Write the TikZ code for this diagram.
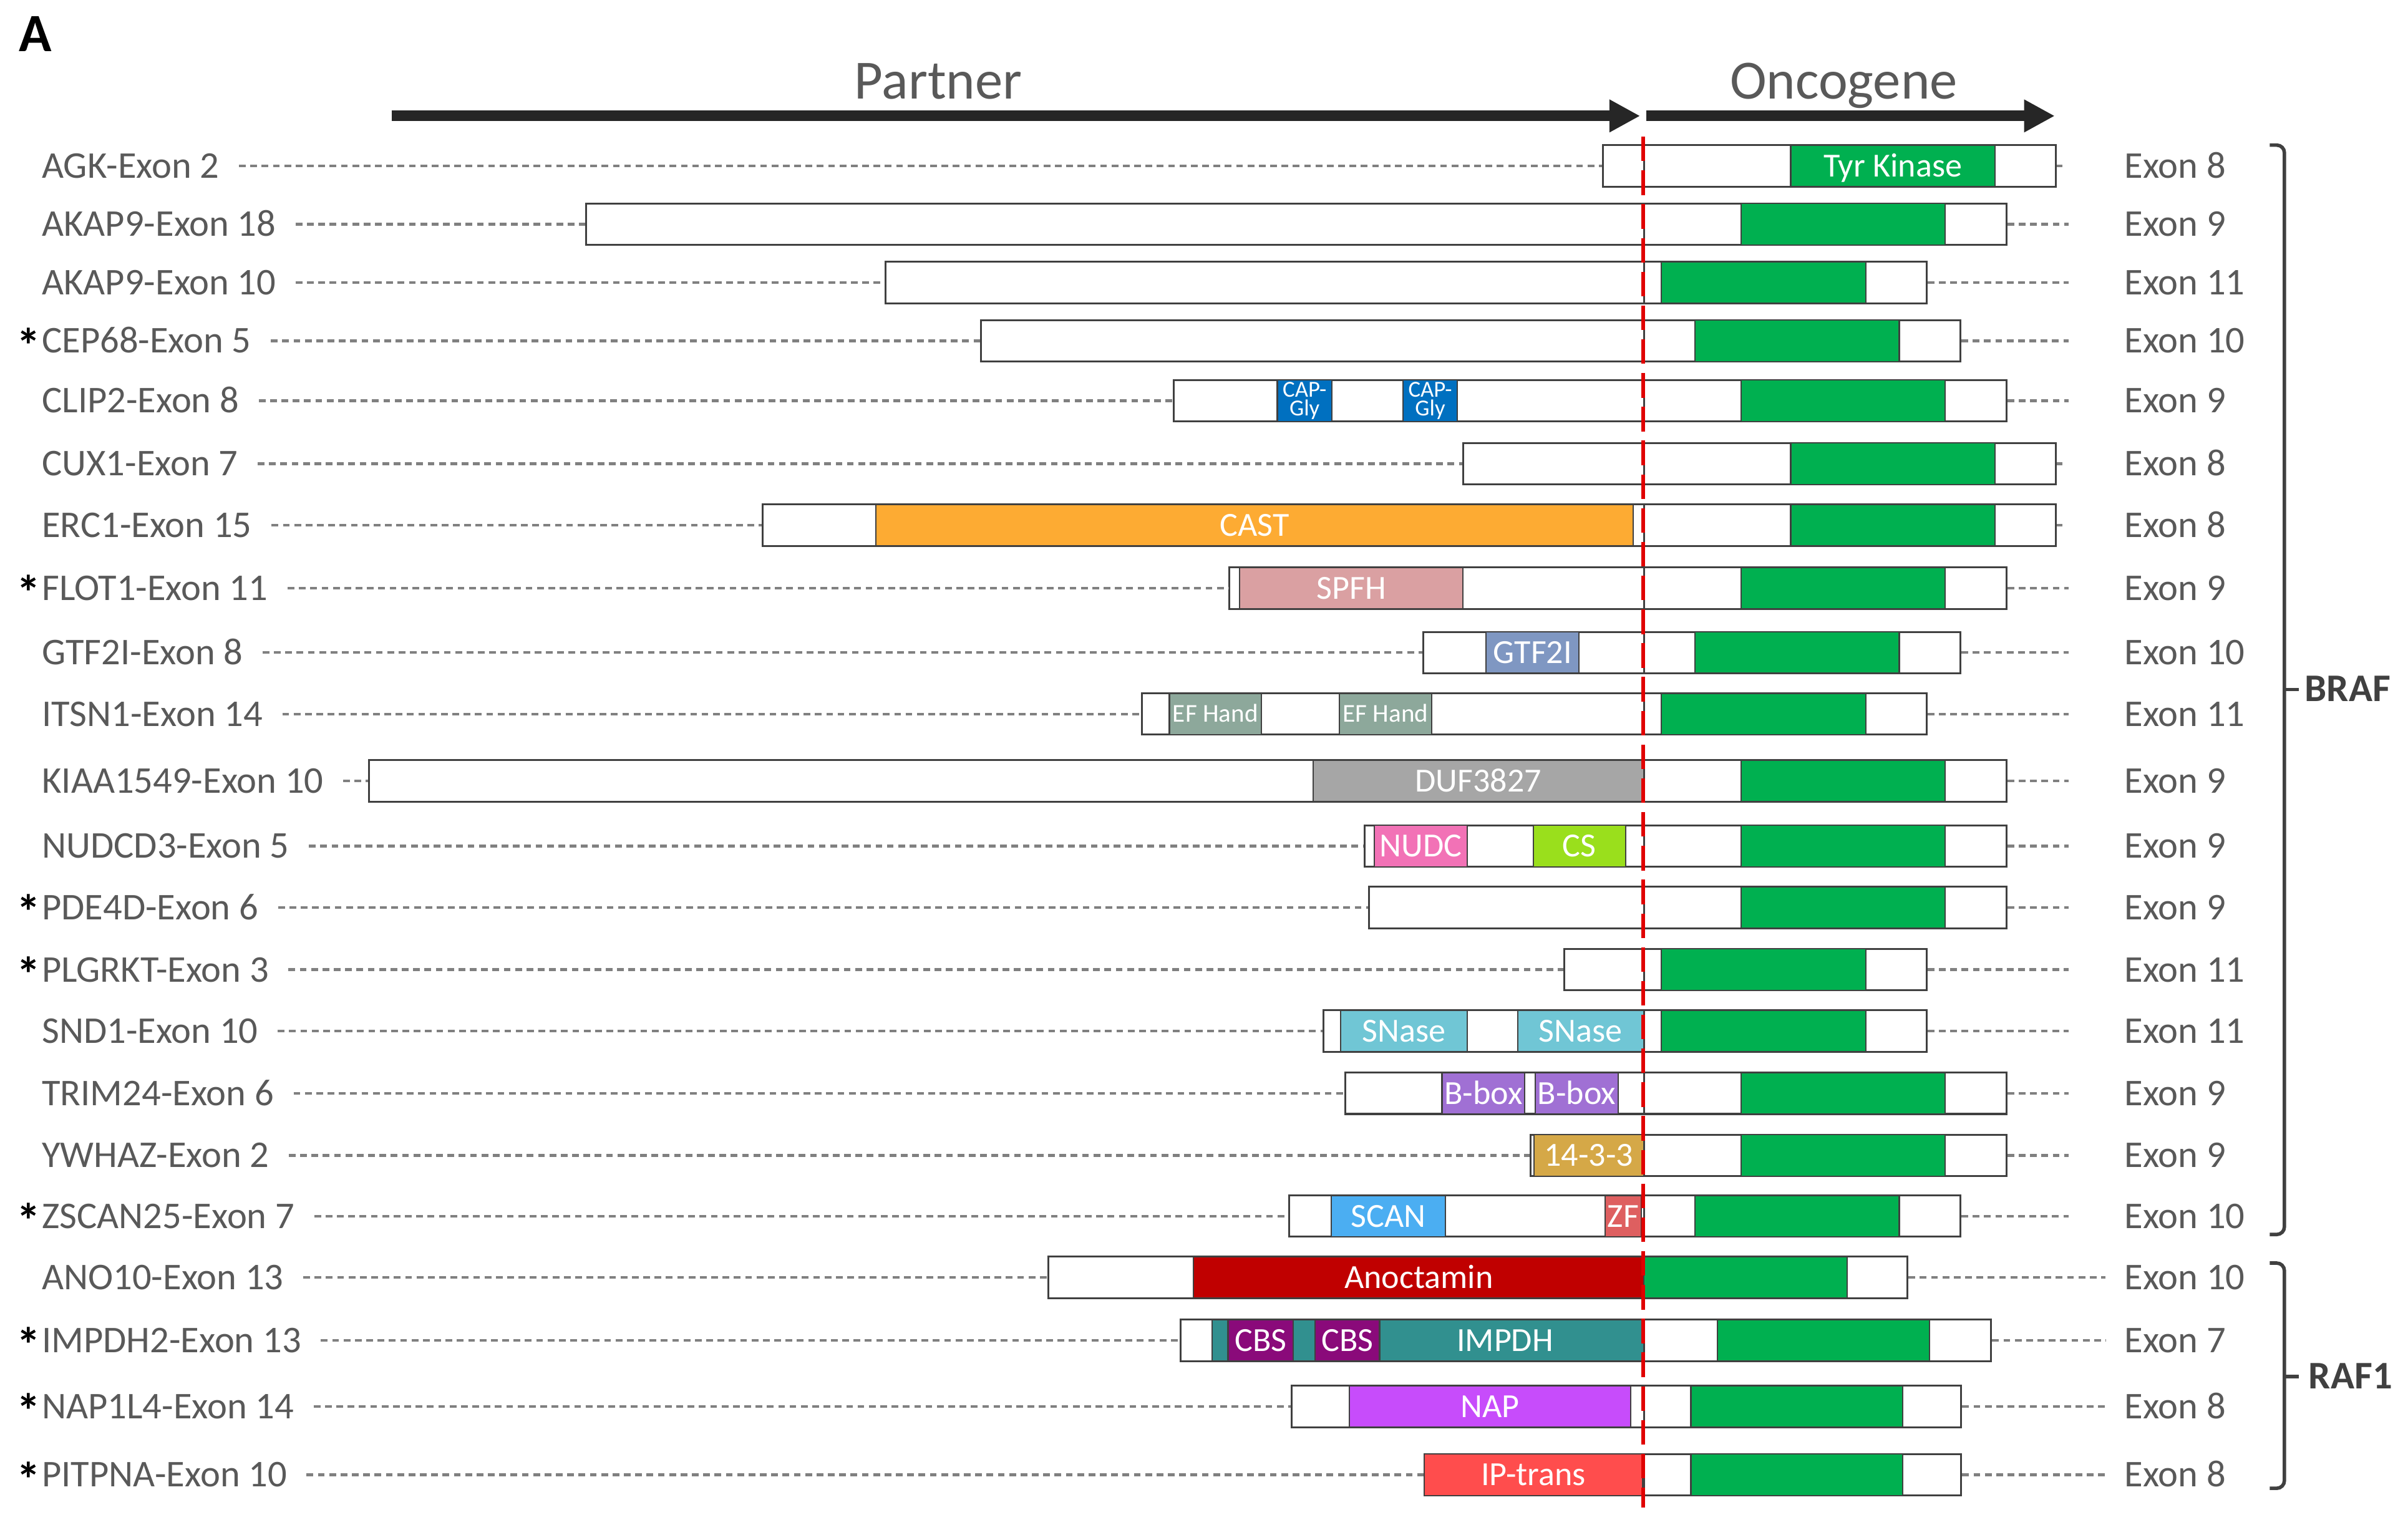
\documentclass[tikz,border=0pt]{standalone}
\usepackage{fontspec}
\setmainfont{Carlito}
\usetikzlibrary{arrows.meta,positioning}

\definecolor{labgray}{HTML}{595959}
\definecolor{boxgray}{HTML}{404040}
\definecolor{dashgray}{HTML}{808080}
\definecolor{arrowblack}{HTML}{262626}
\definecolor{fusered}{HTML}{E00000}
\definecolor{kingreen}{HTML}{00B050}
\definecolor{capgly}{HTML}{0070C0}
\definecolor{cast}{HTML}{FDAB33}
\definecolor{spfh}{HTML}{DAA0A2}
\definecolor{gtfii}{HTML}{7F97C2}
\definecolor{efhand}{HTML}{8DA89B}
\definecolor{duf}{HTML}{A6A6A6}
\definecolor{nudc}{HTML}{F272B6}
\definecolor{csdom}{HTML}{9ADF1C}
\definecolor{snase}{HTML}{70C6D5}
\definecolor{bboxdom}{HTML}{A070D4}
\definecolor{ywhazdom}{HTML}{D5A847}
\definecolor{scan}{HTML}{4BAEF2}
\definecolor{zf}{HTML}{DE5F60}
\definecolor{anoct}{HTML}{C00000}
\definecolor{impdhdom}{HTML}{31908F}
\definecolor{cbs}{HTML}{8A0A7A}
\definecolor{nap}{HTML}{C74CFB}
\definecolor{iptrans}{HTML}{FF4D4D}

\tikzset{
  headtext/.style={anchor=base, text=labgray, font=\fontsize{20.5}{24}\selectfont, inner sep=0pt},
  headarrow/.style={arrowblack, line width=0.14cm, -{Triangle[length=0.4cm,width=0.4cm]}},
  lab/.style={anchor=west, text=labgray, font=\fontsize{14}{16}\selectfont, text height=9pt, text depth=0pt, inner xsep=0.25cm, inner ysep=0pt},
  ast/.style={text=black, font=\fontsize{18}{20}\selectfont\bfseries, text height=9pt, text depth=0pt, inner sep=0pt, yshift=-3.5pt},
  exlab/.style={anchor=west, text=labgray, font=\fontsize{14}{16}\selectfont, text height=9pt, text depth=0pt, inner sep=0pt},
  pbox/.style={anchor=west, draw=boxgray, line width=0.7pt, fill=white, minimum height=0.54cm, inner sep=0pt},
  braf8/.style={pbox, minimum width=5.36cm},
  braf9/.style={pbox, minimum width=4.72cm},
  braf10/.style={pbox, minimum width=4.12cm},
  braf11/.style={pbox, minimum width=3.68cm},
  raf7/.style={pbox, minimum width=4.52cm},
  raf8/.style={pbox, minimum width=4.13cm},
  raf10/.style={pbox, minimum width=3.43cm},
  dom/.style={anchor=west, draw=boxgray, line width=0.5pt, minimum height=0.54cm, inner sep=0pt, text=white, font=\fontsize{12.5}{14}\selectfont, text height=8pt, text depth=0pt},
  kin/.style={dom, fill=kingreen, minimum width=2.66cm},
  capg/.style={anchor=west, draw=boxgray, line width=0.5pt, fill=capgly, minimum height=0.54cm, minimum width=0.71cm, inner sep=0pt, text=white, align=center, font=\fontsize{8.5}{6.8}\selectfont},
  efh/.style={dom, fill=efhand, minimum width=1.2cm, font=\fontsize{9.5}{11}\selectfont, text height=6pt},
  domtext/.style={text=white, font=\fontsize{12.5}{14}\selectfont, text height=8pt, text depth=0pt, inner sep=0pt},
  conn/.style={dashgray, line width=1pt, dash pattern=on 2.5pt off 1.7pt},
  fuse/.style={fusered, line width=1.4pt, dash pattern=on 0.32cm off 0.12cm},
  grp/.style={anchor=west, text=boxgray, font=\fontsize{14.5}{16}\selectfont\bfseries, text height=9pt, text depth=0pt, inner sep=0pt},
  brack/.style={boxgray, line width=1.3pt, rounded corners=0.1cm}
}

\begin{document}
\begin{tikzpicture}[x=0.02cm, y=-0.02cm]
  \useasboundingbox (0,0) rectangle (1568,993);

  % Panel letter and direction arrows
  \node[anchor=base west, inner sep=0pt, font=\fontsize{20}{24}\selectfont\bfseries] (panel) at (12,33.6) {A};
  \coordinate (pstart) at (255,75.5);
  \coordinate (pend) at (1068,75.5);
  \coordinate (ostart) at (1072,75.5);
  \coordinate (oend) at (1338,75.5);
  \draw[headarrow] (pstart) -- (pend);
  \draw[headarrow] (ostart) -- (oend);
  \node[headtext] (partner) at (611,64.4) {Partner};
  \node[headtext] (oncogene) at (1200.5,64.4) {Oncogene};

  % AGK
  \node[lab] (agk) at (14.5,108) {AGK-Exon 2};
  \node[pbox, minimum width=0.54cm] (agkP) at (1043,108) {};
  \node[braf8] (agkO) at (1070,108) {};
  \node[kin] (agkK) at (1165.6,108) {Tyr Kinase};
  \node[exlab] (agkE) at (1383,108) {Exon 8};
  \draw[conn] (agk) -- (agkP);
  \draw[conn] (agkO) -- (1343,108) coordinate (agkD);

  % AKAP9 exon 18
  \node[lab] (akapA) at (14.5,146) {AKAP9-Exon 18};
  \node[pbox, minimum width=13.78cm] (akapAP) at (381,146) {};
  \node[braf9] (akapAO) at (1070,146) {};
  \node[kin] (akapAK) at (1133.3,146) {};
  \node[exlab] (akapAE) at (1383,146) {Exon 9};
  \draw[conn] (akapA) -- (akapAP);
  \draw[conn] (akapAO) -- (1347,146) coordinate (akapAD);

  % AKAP9 exon 10
  \node[lab] (akapB) at (14.5,184) {AKAP9-Exon 10};
  \node[pbox, minimum width=9.88cm] (akapBP) at (576,184) {};
  \node[braf11] (akapBO) at (1070,184) {};
  \node[kin] (akapBK) at (1081.4,184) {};
  \node[exlab] (akapBE) at (1383,184) {Exon 11};
  \draw[conn] (akapB) -- (akapBP);
  \draw[conn] (akapBO) -- (1347,184) coordinate (akapBD);

  % CEP68
  \node[lab] (cep) at (14.5,222) {CEP68-Exon 5};
  \node[ast, left=-0.25cm of cep] (cepS) {*};
  \node[pbox, minimum width=8.64cm] (cepP) at (638,222) {};
  \node[braf10] (cepO) at (1070,222) {};
  \node[kin] (cepK) at (1103.3,222) {};
  \node[exlab] (cepE) at (1383,222) {Exon 10};
  \draw[conn] (cep) -- (cepP);
  \draw[conn] (cepO) -- (1347,222) coordinate (cepD);

  % CLIP2
  \node[lab] (clip) at (14.5,261) {CLIP2-Exon 8};
  \node[pbox, minimum width=6.13cm] (clipP) at (763.5,261) {};
  \node[capg] (clipA) at (831.3,261) {CAP-\\Gly};
  \node[capg] (clipB) at (913.1,261) {CAP-\\Gly};
  \node[braf9] (clipO) at (1070,261) {};
  \node[kin] (clipK) at (1133.3,261) {};
  \node[exlab] (clipE) at (1383,261) {Exon 9};
  \draw[conn] (clip) -- (clipP);
  \draw[conn] (clipO) -- (1347,261) coordinate (clipD);

  % CUX1
  \node[lab] (cux) at (14.5,302) {CUX1-Exon 7};
  \node[pbox, minimum width=2.36cm] (cuxP) at (952,302) {};
  \node[braf8] (cuxO) at (1070,302) {};
  \node[kin] (cuxK) at (1165.6,302) {};
  \node[exlab] (cuxE) at (1383,302) {Exon 8};
  \draw[conn] (cux) -- (cuxP);
  \draw[conn] (cuxO) -- (1343,302) coordinate (cuxD);

  % ERC1
  \node[lab] (erc) at (14.5,342) {ERC1-Exon 15};
  \node[pbox, minimum width=11.48cm] (ercP) at (496,342) {};
  \node[dom, fill=cast, minimum width=9.86cm] (ercA) at (570,342) {CAST};
  \node[braf8] (ercO) at (1070,342) {};
  \node[kin] (ercK) at (1165.6,342) {};
  \node[exlab] (ercE) at (1383,342) {Exon 8};
  \draw[conn] (erc) -- (ercP);
  \draw[conn] (ercO) -- (1343,342) coordinate (ercD);

  % FLOT1
  \node[lab] (flot) at (14.5,383) {FLOT1-Exon 11};
  \node[ast, left=-0.25cm of flot] (flotS) {*};
  \node[pbox, minimum width=5.40cm] (flotP) at (800,383) {};
  \node[dom, fill=spfh, minimum width=2.91cm] (flotA) at (806.8,383) {SPFH};
  \node[braf9] (flotO) at (1070,383) {};
  \node[kin] (flotK) at (1133.3,383) {};
  \node[exlab] (flotE) at (1383,383) {Exon 9};
  \draw[conn] (flot) -- (flotP);
  \draw[conn] (flotO) -- (1347,383) coordinate (flotD);

  % GTF2I
  \node[lab] (gtf) at (14.5,425) {GTF2I-Exon 8};
  \node[pbox, minimum width=2.88cm] (gtfP) at (926,425) {};
  \node[dom, fill=gtfii, minimum width=1.21cm] (gtfA) at (967.3,425) {GTF2I};
  \node[braf10] (gtfO) at (1070,425) {};
  \node[kin] (gtfK) at (1103.3,425) {};
  \node[exlab] (gtfE) at (1383,425) {Exon 10};
  \draw[conn] (gtf) -- (gtfP);
  \draw[conn] (gtfO) -- (1347,425) coordinate (gtfD);

  % ITSN1
  \node[lab] (itsn) at (14.5,465) {ITSN1-Exon 14};
  \node[pbox, minimum width=6.54cm] (itsnP) at (743,465) {};
  \node[efh] (itsnA) at (761,465) {EF Hand};
  \node[efh] (itsnB) at (871.8,465) {EF Hand};
  \node[braf11] (itsnO) at (1070,465) {};
  \node[kin] (itsnK) at (1081.4,465) {};
  \node[exlab] (itsnE) at (1383,465) {Exon 11};
  \draw[conn] (itsn) -- (itsnP);
  \draw[conn] (itsnO) -- (1347,465) coordinate (itsnD);

  % KIAA1549
  \node[lab] (kiaa) at (14.5,508.5) {KIAA1549-Exon 10};
  \node[pbox, minimum width=16.61cm] (kiaaP) at (239.5,508.5) {};
  \node[dom, fill=duf, minimum width=4.31cm] (kiaaA) at (854.5,508.5) {DUF3827};
  \node[braf9] (kiaaO) at (1070,508.5) {};
  \node[kin] (kiaaK) at (1133.3,508.5) {};
  \node[exlab] (kiaaE) at (1383,508.5) {Exon 9};
  \draw[conn] (kiaa) -- (kiaaP);
  \draw[conn] (kiaaO) -- (1347,508.5) coordinate (kiaaD);

  % NUDCD3
  \node[lab] (nudcd) at (14.5,551) {NUDCD3-Exon 5};
  \node[pbox, minimum width=3.64cm] (nudcdP) at (888,551) {};
  \node[dom, fill=nudc, minimum width=1.21cm] (nudcdA) at (894.6,551) {NUDC};
  \node[dom, fill=csdom, minimum width=1.20cm] (nudcdB) at (998,551) {CS};
  \node[braf9] (nudcdO) at (1070,551) {};
  \node[kin] (nudcdK) at (1133.3,551) {};
  \node[exlab] (nudcdE) at (1383,551) {Exon 9};
  \draw[conn] (nudcd) -- (nudcdP);
  \draw[conn] (nudcdO) -- (1347,551) coordinate (nudcdD);

  % PDE4D
  \node[lab] (pde) at (14.5,591) {PDE4D-Exon 6};
  \node[ast, left=-0.25cm of pde] (pdeS) {*};
  \node[pbox, minimum width=3.58cm] (pdeP) at (891,591) {};
  \node[braf9] (pdeO) at (1070,591) {};
  \node[kin] (pdeK) at (1133.3,591) {};
  \node[exlab] (pdeE) at (1383,591) {Exon 9};
  \draw[conn] (pde) -- (pdeP);
  \draw[conn] (pdeO) -- (1347,591) coordinate (pdeD);

  % PLGRKT
  \node[lab] (plg) at (14.5,631.5) {PLGRKT-Exon 3};
  \node[ast, left=-0.25cm of plg] (plgS) {*};
  \node[pbox, minimum width=1.04cm] (plgP) at (1018,631.5) {};
  \node[braf11] (plgO) at (1070,631.5) {};
  \node[kin] (plgK) at (1081.4,631.5) {};
  \node[exlab] (plgE) at (1383,631.5) {Exon 11};
  \draw[conn] (plg) -- (plgP);
  \draw[conn] (plgO) -- (1347,631.5) coordinate (plgD);

  % SND1
  \node[lab] (snd) at (14.5,671.5) {SND1-Exon 10};
  \node[pbox, minimum width=4.18cm] (sndP) at (861,671.5) {};
  \node[dom, fill=snase, minimum width=1.65cm] (sndA) at (872.4,671.5) {SNase};
  \node[dom, fill=snase, minimum width=1.64cm] (sndB) at (987.8,671.5) {SNase};
  \node[braf11] (sndO) at (1070,671.5) {};
  \node[kin] (sndK) at (1081.4,671.5) {};
  \node[exlab] (sndE) at (1383,671.5) {Exon 11};
  \draw[conn] (snd) -- (sndP);
  \draw[conn] (sndO) -- (1347,671.5) coordinate (sndD);

  % TRIM24
  \node[lab] (trim) at (14.5,712) {TRIM24-Exon 6};
  \node[pbox, minimum width=3.89cm] (trimP) at (875.5,712) {};
  \node[dom, fill=bboxdom, minimum width=1.08cm] (trimA) at (938.5,712) {B-box};
  \node[dom, fill=bboxdom, minimum width=1.08cm] (trimB) at (999.2,712) {B-box};
  \node[braf9] (trimO) at (1070,712) {};
  \node[kin] (trimK) at (1133.3,712) {};
  \node[exlab] (trimE) at (1383,712) {Exon 9};
  \draw[conn] (trim) -- (trimP);
  \draw[conn] (trimO) -- (1347,712) coordinate (trimD);

  % YWHAZ
  \node[lab] (ywhaz) at (14.5,752.5) {YWHAZ-Exon 2};
  \node[pbox, minimum width=1.48cm] (ywhazP) at (996,752.5) {};
  \node[dom, fill=ywhazdom, minimum width=1.43cm] (ywhazA) at (998.3,752.5) {14-3-3};
  \node[braf9] (ywhazO) at (1070,752.5) {};
  \node[kin] (ywhazK) at (1133.3,752.5) {};
  \node[exlab] (ywhazE) at (1383,752.5) {Exon 9};
  \draw[conn] (ywhaz) -- (ywhazP);
  \draw[conn] (ywhazO) -- (1347,752.5) coordinate (ywhazD);

  % ZSCAN25
  \node[lab] (zscan) at (14.5,792) {ZSCAN25-Exon 7};
  \node[ast, left=-0.25cm of zscan] (zscanS) {*};
  \node[pbox, minimum width=4.62cm] (zscanP) at (839,792) {};
  \node[dom, fill=scan, minimum width=1.49cm] (zscanA) at (866.4,792) {SCAN};
  \node[dom, fill=zf, minimum width=0.47cm] (zscanB) at (1044.8,792) {ZF};
  \node[braf10] (zscanO) at (1070,792) {};
  \node[kin] (zscanK) at (1103.3,792) {};
  \node[exlab] (zscanE) at (1383,792) {Exon 10};
  \draw[conn] (zscan) -- (zscanP);
  \draw[conn] (zscanO) -- (1347,792) coordinate (zscanD);

  % ANO10
  \node[lab] (ano) at (14.5,832) {ANO10-Exon 13};
  \node[pbox, minimum width=7.76cm] (anoP) at (682,832) {};
  \node[dom, fill=anoct, minimum width=5.87cm] (anoA) at (776.7,832) {Anoctamin};
  \node[raf10] (anoO) at (1070,832) {};
  \node[kin, minimum width=2.65cm] (anoK) at (1070,832) {};
  \node[exlab] (anoE) at (1383,832) {Exon 10};
  \draw[conn] (ano) -- (anoP);
  \draw[conn] (anoO) -- (1371,832) coordinate (anoD);

  % IMPDH2
  \node[lab] (impdh) at (14.5,873) {IMPDH2-Exon 13};
  \node[ast, left=-0.25cm of impdh] (impdhS) {*};
  \node[pbox, minimum width=6.04cm] (impdhP) at (768,873) {};
  \node[dom, fill=impdhdom, minimum width=5.62cm] (impdhA) at (788.9,873) {};
  \node[dom, fill=cbs, minimum width=0.85cm] (impdhB) at (799.2,873) {CBS};
  \node[dom, fill=cbs, minimum width=0.84cm] (impdhC) at (855.9,873) {CBS};
  \node[domtext] (impdhT) at (980,873) {IMPDH};
  \node[raf7] (impdhO) at (1070,873) {};
  \node[kin, minimum width=2.76cm] (impdhK) at (1118,873) {};
  \node[exlab] (impdhE) at (1383,873) {Exon 7};
  \draw[conn] (impdh) -- (impdhP);
  \draw[conn] (impdhO) -- (1371,873) coordinate (impdhD);

  % NAP1L4
  \node[lab] (nap) at (14.5,916) {NAP1L4-Exon 14};
  \node[ast, left=-0.25cm of nap] (napS) {*};
  \node[pbox, minimum width=4.59cm] (napP) at (840.5,916) {};
  \node[dom, fill=nap, minimum width=3.67cm] (napA) at (878.1,916) {NAP};
  \node[raf8] (napO) at (1070,916) {};
  \node[kin, minimum width=2.76cm] (napK) at (1100.6,916) {};
  \node[exlab] (napE) at (1383,916) {Exon 8};
  \draw[conn] (nap) -- (napP);
  \draw[conn] (napO) -- (1371,916) coordinate (napD);

  % PITPNA
  \node[lab] (pit) at (14.5,960.5) {PITPNA-Exon 10};
  \node[ast, left=-0.25cm of pit] (pitS) {*};
  \node[pbox, minimum width=2.86cm] (pitP) at (927,960.5) {};
  \node[dom, fill=iptrans, minimum width=2.84cm] (pitA) at (927.1,960.5) {IP-trans};
  \node[raf8] (pitO) at (1070,960.5) {};
  \node[kin, minimum width=2.76cm] (pitK) at (1100.6,960.5) {};
  \node[exlab] (pitE) at (1383,960.5) {Exon 8};
  \draw[conn] (pit) -- (pitP);
  \draw[conn] (pitO) -- (1371,960.5) coordinate (pitD);

  % Gene brackets
  \coordinate (brafTop) at (1478,94.5);
  \coordinate (brafBot) at (1478,804);
  \coordinate (brafMid) at (1487.5,449);
  \draw[brack] (brafTop) -- ++(9.5,0) |- (brafBot);
  \node[grp] (braf) at (1500.5,449) {BRAF};
  \draw[brack, shorten >=0.07cm] (brafMid) -- (braf.west);
  \coordinate (rafTop) at (1478,822.6);
  \coordinate (rafBot) at (1478,969.3);
  \coordinate (rafMid) at (1487.5,896.5);
  \draw[brack] (rafTop) -- ++(9.5,0) |- (rafBot);
  \node[grp] (raf) at (1503,896.5) {RAF1};
  \draw[brack, shorten >=0.12cm] (rafMid) -- (raf.west);

  % Fusion breakpoint
  \coordinate (ftop) at (1070,89);
  \coordinate (fbot) at (1070,982);
  \draw[fuse] (ftop) -- (fbot);
\end{tikzpicture}
\end{document}
